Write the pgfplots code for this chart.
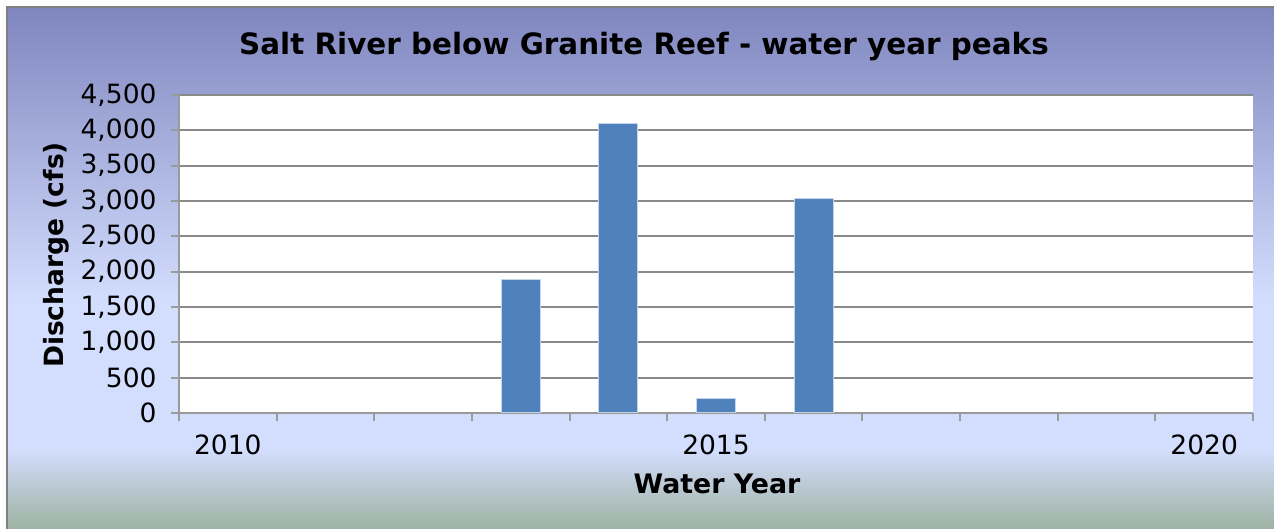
\documentclass[border=0pt]{standalone}
\usepackage{fontspec}
\setmainfont{DejaVu Sans}
\usepackage{pgfplots}
\pgfplotsset{compat=1.18}
\definecolor{bgtop}{HTML}{7F86BF}
\definecolor{bgmid}{HTML}{D3DDFD}
\definecolor{bgbot}{HTML}{9AB09C}
\definecolor{barblue}{HTML}{4F81BD}
\definecolor{baredge}{HTML}{C5D6EA}
\definecolor{gridgray}{HTML}{8A8A8A}
\definecolor{axgray}{HTML}{9A9A9A}
\begin{document}
\begin{tikzpicture}[x=1pt,y=1pt]
\useasboundingbox (0,0) rectangle (1274,529);
\fill[white] (0,0) rectangle (1274,529);
\shade[top color=bgtop,bottom color=bgmid] (7,229) rectangle (1290,522);
\fill[bgmid] (7,79) rectangle (1290,229.5);
\shade[top color=bgmid,bottom color=bgbot] (7,-5) rectangle (1290,79.5);
\draw[gray, line width=1.5pt] (7,-5) -- (7,522) -- (1290,522);
\begin{axis}[
  at={(179pt,116pt)}, anchor=south west,
  scale only axis, width=1074pt, height=318pt,
  xmin=2009.5, xmax=2020.5, ymin=0, ymax=4500,
  axis background/.style={fill=white},
  axis x line*=bottom, axis y line*=left,
  axis line style={axgray, line width=2pt},
  ytick={0,500,...,4500},
  ymajorgrids,
  major grid style={gridgray, line width=2pt},
  xtick={2009.5,2010.5,...,2020.5},
  xticklabels={},
  extra x ticks={2010,2015,2020},
  extra x tick labels={2010,2015,2020},
  extra x tick style={major tick length=0pt, xticklabel style={yshift=-18pt}},
  tick align=outside,
  major tick length=8pt,
  tick style={axgray, line width=2pt},
  ticklabel style={font=\fontsize{26.5}{31}\selectfont},
  /pgf/number format/assume math mode=true,
  y tick label style={/pgf/number format/1000 sep={,}, xshift=-11pt},
  x tick label style={/pgf/number format/set thousands separator={}},
]
\addplot[ybar, bar width=39pt, fill=barblue, draw=baredge, line width=1pt]
  coordinates {(2013,1890) (2014,4090) (2015,212) (2016,3030)};
\end{axis}
\node[anchor=base, font=\bfseries\fontsize{29.4}{35}\selectfont] at (644,474) {Salt River below Granite Reef - water year peaks};
\node[rotate=90, font=\bfseries\fontsize{26.5}{31}\selectfont] at (56,274) {Discharge (cfs)};
\node[anchor=base, font=\bfseries\fontsize{26.8}{32}\selectfont] at (717,35) {Water Year};
\end{tikzpicture}
\end{document}
